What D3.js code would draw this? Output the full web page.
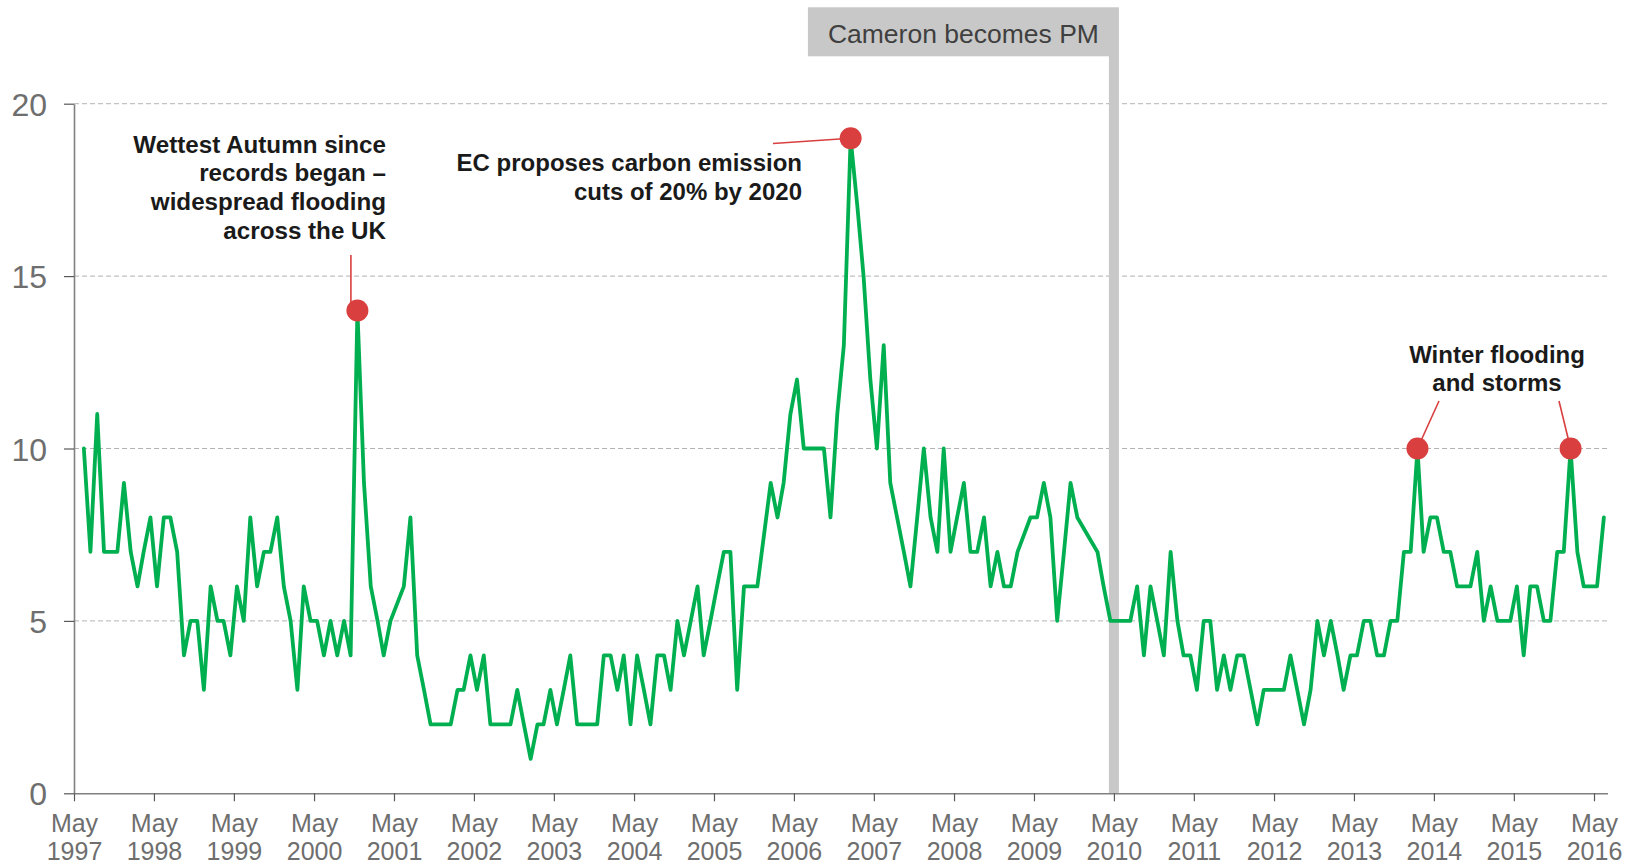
<!DOCTYPE html>
<html>
<head>
<meta charset="utf-8">
<script src="https://cdn.jsdelivr.net/npm/d3@7/dist/d3.min.js"></script>
<style>
  html, body { margin: 0; padding: 0; background: #ffffff; }
  svg { display: block; }
  text { font-family: "Liberation Sans", Arial, Helvetica, sans-serif; }
</style>
</head>
<body>
<svg id="chart" width="1639" height="866"></svg>
<script>
// ---------------- DATA ----------------
// Monthly share (%), first value = June 1997, last value = June 2016.
// null = no reading that month (line joins across the gap).
const firstMonth = [1997, 5]; // year, 0-based month (June)
const values = [
  10, 7, 11, 7, 7, 7, 9,                       // Jun-Dec 1997
  7, 6, 7, 8, 6, 8, 8, 7, 4, 5, 5, 3,          // 1998
  6, 5, 5, 4, 6, 5, 8, 6, 7, 7, 8, 6,          // 1999
  5, 3, 6, 5, 5, 4, 5, 4, 5, 4, 14, 9,         // 2000
  6, 5, 4, 5, null, 6, 8, 4, 3, 2, 2, 2,       // 2001
  2, 3, 3, 4, 3, 4, 2, 2, 2, 2, 3, 2,          // 2002
  1, 2, 2, 3, 2, 3, 4, 2, 2, 2, 2, 4,          // 2003
  4, 3, 4, 2, 4, 3, 2, 4, 4, 3, 5, 4,          // 2004
  5, 6, 4, 5, 6, 7, 7, 3, 6, 6, 6, null,       // 2005
  9, 8, 9, 11, 12, 10, 10, 10, 10, 8, 11, 13,  // 2006
  19, 17, 15, 12, 10, 13, 9, 8, 7, 6, 8, 10,   // 2007
  8, 7, 10, 7, 8, 9, 7, 7, 8, 6, 7, 6,         // 2008
  6, 7, null, 8, 8, 9, 8, 5, 7, 9, 8, null,    // 2009
  null, 7, 6, 5, 5, 5, 5, 6, 4, 6, 5, 4,       // 2010
  7, 5, 4, 4, 3, 5, 5, 3, 4, 3, 4, 4,          // 2011
  3, 2, 3, 3, 3, 3, 4, 3, 2, 3, 5, 4,          // 2012
  5, 4, 3, 4, 4, 5, 5, 4, 4, 5, 5, 7,          // 2013
  7, 10, 7, 8, 8, 7, 7, 6, 6, 6, 7, 5,         // 2014
  6, 5, 5, 5, 6, 4, 6, 6, 5, 5, 7, 7,          // 2015
  10, 7, 6, 6, 6, 8                            // Jan-Jun 2016
];
const yTicks = [0, 5, 10, 15, 20];
const xTickMonth = "May";
const xTickYears = [1997, 1998, 1999, 2000, 2001, 2002, 2003, 2004, 2005, 2006,
                    2007, 2008, 2009, 2010, 2011, 2012, 2013, 2014, 2015, 2016];
// highlighted points (index into values)
const highlightIdx = [41, 115, 200, 223];
const annoWettest = ["Wettest Autumn since", "records began \u2013", "widespread flooding", "across the UK"];
const annoEC = ["EC proposes carbon emission", "cuts of 20% by 2020"];
const annoWinter = ["Winter flooding", "and storms"];
const eventLabel = "Cameron becomes PM";
const eventDate = [2010, 4, 1];

// ---------------- LAYOUT ----------------
(function () {
const svg = d3.select("#chart");
const pL = 74, pR = 1607, pT = 103.7, pB = 793.3;

const data = values.map((v, i) => ({
  date: new Date(firstMonth[0], firstMonth[1] + i, 15),
  value: v
}));

const x = d3.scaleTime()
  .domain([new Date(xTickYears[0], 4, 1), new Date(xTickYears[xTickYears.length - 1], 4, 1)])
  .range([pL, 1594]);
const y = d3.scaleLinear().domain([0, 20]).range([pB, pT]);

// gridlines
svg.append("g")
  .selectAll("line")
  .data(yTicks.filter(d => d > 0))
  .join("line")
  .attr("x1", pL).attr("x2", pR)
  .attr("y1", d => y(d)).attr("y2", d => y(d))
  .attr("stroke", "#b3b3b3")
  .attr("stroke-width", 1)
  .attr("stroke-dasharray", "5,3");

// Cameron event bar + box
const ex = x(new Date(eventDate[0], eventDate[1], eventDate[2]));
const barW = 10;
svg.append("rect")
  .attr("x", ex - barW / 2).attr("y", 56)
  .attr("width", barW).attr("height", pB - 56)
  .attr("fill", "#c8c8c8");
svg.append("rect")
  .attr("x", ex + barW / 2 - 311).attr("y", 7.3)
  .attr("width", 311).attr("height", 49)
  .attr("fill", "#c8c8c8");
svg.append("text")
  .attr("x", ex + barW / 2 - 155.5).attr("y", 43.3)
  .attr("text-anchor", "middle")
  .attr("font-size", 26.5)
  .attr("fill", "#3f3f3f")
  .text(eventLabel);

// Y axis
const yAxis = svg.append("g")
  .attr("transform", `translate(${pL},0)`)
  .call(d3.axisLeft(y).tickValues(yTicks).tickSize(10).tickPadding(17).tickSizeOuter(0));
yAxis.select(".domain").attr("stroke", "#808080").attr("stroke-width", 1.6);
yAxis.selectAll(".tick line").attr("stroke", "#595959").attr("stroke-width", 1.2);
yAxis.selectAll(".tick text")
  .attr("font-size", 32)
  .attr("fill", "#6e6e6e")
  .attr("font-family", '"Liberation Sans", Arial, sans-serif')
  .attr("dy", "0.36em");

// X axis
const xTickDates = xTickYears.map(yr => new Date(yr, 4, 1));
const xAxis = svg.append("g")
  .attr("transform", `translate(0,${pB})`)
  .call(d3.axisBottom(x).tickValues(xTickDates).tickSize(8).tickSizeOuter(0).tickFormat(() => ""));
xAxis.select(".domain").attr("stroke", "#808080").attr("stroke-width", 1.6)
  .attr("d", `M${pL},0.5H${pR + 1}`);
xAxis.selectAll(".tick line").attr("stroke", "#595959").attr("stroke-width", 1.2);
xAxis.selectAll(".tick").each(function(d, i) {
  const g = d3.select(this);
  g.select("text").remove();
  const lab = g.append("g")
    .attr("font-size", 25)
    .attr("fill", "#6e6e6e")
    .attr("text-anchor", "middle")
    .attr("font-family", '"Liberation Sans", Arial, sans-serif');
  lab.append("text").attr("x", 0).attr("y", 38.5).text(xTickMonth);
  lab.append("text").attr("x", 0).attr("y", 66.8).text(xTickYears[i]);
});

// line
const line = d3.line()
  .x(d => x(d.date))
  .y(d => y(d.value));
svg.append("path")
  .datum(data.filter(d => d.value !== null))
  .attr("fill", "none")
  .attr("stroke", "#00b050")
  .attr("stroke-width", 3.8)
  .attr("stroke-linejoin", "round")
  .attr("stroke-linecap", "round")
  .attr("d", line);

// annotations
const red = "#d93f3f";
const p = highlightIdx.map(i => ({ x: x(data[i].date), y: y(data[i].value) }));
const leaders = [
  [p[0].x - 6.5, 255, p[0].x - 6.5, p[0].y],
  [773, 143.5, p[1].x, p[1].y],
  [1439, 401, p[2].x, p[2].y],
  [1559, 401, p[3].x, p[3].y]
];
svg.append("g").selectAll("line").data(leaders).join("line")
  .attr("x1", d => d[0]).attr("y1", d => d[1])
  .attr("x2", d => d[2]).attr("y2", d => d[3])
  .attr("stroke", red).attr("stroke-width", 1.6);

svg.append("g").selectAll("circle").data(p).join("circle")
  .attr("cx", d => d.x).attr("cy", d => d.y).attr("r", 11)
  .attr("fill", red);

function block(lines, xPos, y0, dy, anchor, fs) {
  const t = svg.append("text")
    .attr("text-anchor", anchor)
    .attr("font-size", fs)
    .attr("font-weight", "bold")
    .attr("fill", "#1a1a1a");
  lines.forEach((s, i) => t.append("tspan").attr("x", xPos).attr("y", y0 + i * dy).text(s));
}
block(annoWettest, 386, 152.8, 28.6, "end", 24.2);
block(annoEC, 802, 170.8, 28.8, "end", 24);
block(annoWinter, 1497, 362.7, 28.4, "middle", 24);
})();
</script>
</body>
</html>
